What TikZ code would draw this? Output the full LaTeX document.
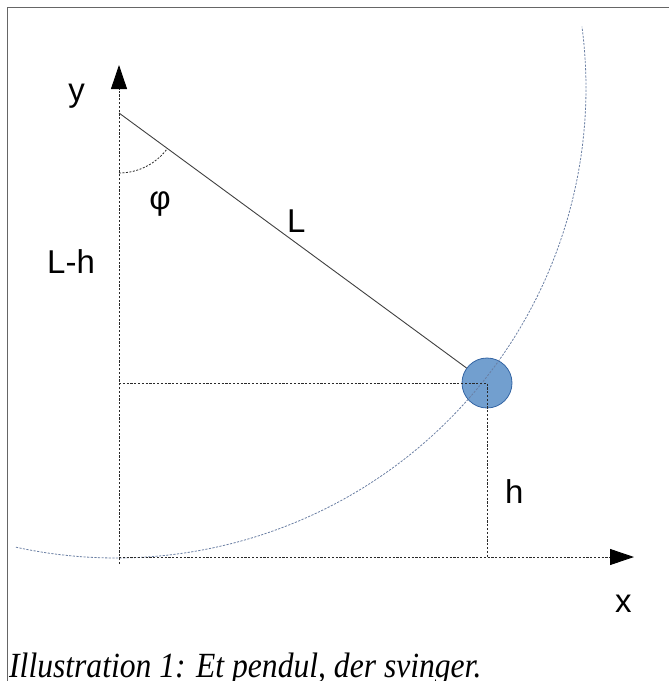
\documentclass[tikz,border=0pt]{standalone}
\usepackage{fontspec}
\setmainfont{Liberation Sans}
\newfontfamily\capfont{Liberation Serif}
\usetikzlibrary{arrows.meta,calc}
\definecolor{bobfill}{HTML}{729FCF}
\definecolor{bobline}{HTML}{3465A4}
\definecolor{arccol}{HTML}{6A7FA3}
\definecolor{axiscol}{HTML}{2A2A2A}
\tikzset{
  axisline/.style={draw=axiscol, line width=0.9pt, dash pattern=on 2.2pt off 1.6pt},
  guideline/.style={draw=axiscol, line width=0.9pt, dash pattern=on 2.2pt off 1.6pt},
  swingarc/.style={draw=arccol, line width=0.8pt, dash pattern=on 2.2pt off 1.4pt},
  anglearc/.style={draw=axiscol, line width=0.8pt, dash pattern=on 2pt off 1.5pt},
  rod/.style={draw=black!75, line width=0.9pt},
  lbl/.style={font=\fontsize{33}{36}\selectfont, inner sep=0pt, text=black},
  tip/.style={-{Triangle[length=24pt,width=16pt,color=black]}},
  frameline/.style={draw=black!60, line width=1pt}
}
\begin{document}
\begin{tikzpicture}[x=1pt,y=-1pt]
\useasboundingbox (0,0) rectangle (669,681);
\clip (0,0) rectangle (669,681);
% frame
\draw[frameline] (7,681) -- (7,7) -- (669,7);
% key points
\coordinate (O) at (119,557);
\coordinate (ybot) at (119,564);
\coordinate (ytip) at (119,65);
\coordinate (xtip) at (634,557);
\coordinate (P) at (119,113);
\coordinate (arcc) at (116,88);
% bob
\node[circle, minimum size=50pt, inner sep=0pt, fill=bobfill, draw=bobline, line width=0.8pt] (bob) at (487,383) {};
% swing arc
\draw[swingarc] (arcc) ++(102.3:470) arc[start angle=102.3, end angle=-7.5, radius=470];
% rod
\draw[rod] (P) -- (bob);
% angle arc
\draw[anglearc] (P) ++(90:60) arc[start angle=90, end angle=36.3, radius=60];
% guides
\draw[guideline] (O |- bob.center) -- (bob.center) -- (bob.center |- O);
% axes
\draw[axisline, tip] (ybot) -- (ytip);
\draw[axisline, tip] (O) -- (xtip);
% labels
\node[lbl, anchor=base] (ylab) at (76.5,101) {y};
\node[lbl, anchor=center] (philab) at (160,204) {φ};
\node[lbl, anchor=base west] (Llab) at (287,232) {L};
\node[lbl, anchor=base west] (Lhlab) at (47,273) {L-h};
\node[lbl, anchor=base west] (hlab) at (505,503) {h};
\node[lbl, anchor=base west] (xlab) at (615,612) {x};
% caption
\node[anchor=base west, inner sep=0pt, font=\capfont\itshape\fontsize{31.6}{34}\selectfont] (cap) at (9,677) {\scalebox{1}[1.12]{Illustration 1: Et pendul, der svinger.}};
\end{tikzpicture}
\end{document}
